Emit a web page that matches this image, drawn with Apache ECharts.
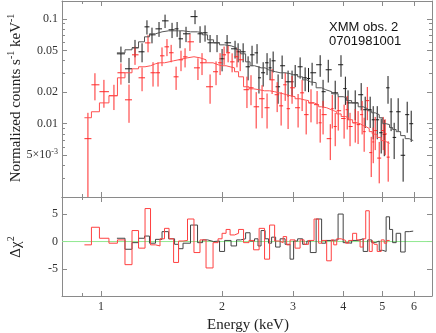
<!DOCTYPE html>
<html><head><meta charset="utf-8">
<script src="https://cdn.jsdelivr.net/npm/echarts@6/dist/echarts.min.js"></script>
<style>html,body{margin:0;padding:0;background:#fff}#c{width:436px;height:333px}</style>
</head><body><div id="c"></div><script>
// ---- data ----
const blackEnergy = [1.121,1.174,1.215,1.265,1.301,1.339,1.394,1.443,1.502,1.546,1.572,1.627,1.713,1.763,1.814,1.867,1.943,2.000,2.058,2.154,2.192,2.256,2.321,2.374,2.443,2.47,2.53,2.587,2.632,2.679,2.756,2.820,2.918,2.985,3.039,3.126,3.217,3.280,3.348,3.506,3.565,3.672,3.821,3.95,4.05,4.113,4.285,4.434,4.537,4.668,4.750,4.861,4.972,5.06,5.17,5.262,5.355,5.479,5.637,5.770,5.904];
const blackRate = [0.0464,0.0334,0.0530,0.0485,0.0839,0.0704,0.0803,0.0957,0.0786,0.0803,0.0645,0.0720,0.105,0.0720,0.0736,0.0591,0.0591,0.0416,0.0591,0.0518,0.0485,0.0485,0.0349,0.0454,0.0474,0.0274,0.0306,0.0381,0.0341,0.0398,0.0225,0.0357,0.0251,0.0251,0.0293,0.0349,0.0274,0.0270,0.0306,0.0365,0.0202,0.0327,0.0197,0.0365,0.0216,0.0158,0.0158,0.0189,0.0136,0.0136,0.0109,0.0109,0.0082,0.0079,0.0220,0.0130,0.0074,0.0130,0.0050,0.0122,0.0100];
const blackErr = [0.008,0.009,0.010,0.010,0.013,0.012,0.013,0.014,0.013,0.013,0.012,0.012,0.016,0.013,0.013,0.011,0.011,0.010,0.011,0.010,0.010,0.010,0.009,0.010,0.010,0.008,0.008,0.009,0.008,0.009,0.007,0.009,0.007,0.007,0.007,0.008,0.007,0.007,0.0075,0.0085,0.006,0.008,0.006,0.0085,0.0065,0.005,0.005,0.0055,0.0045,0.0045,0.0038,0.0038,0.003,0.003,0.0065,0.0045,0.0028,0.0045,0.0022,0.004,0.0033];
const blackModel = [0.0474,0.0507,0.0530,0.0604,0.0674,0.0720,0.0752,0.0769,0.0769,0.0769,0.0769,0.0752,0.0752,0.0736,0.0704,0.0631,0.0591,0.0565,0.0553,0.0530,0.0507,0.0464,0.0389,0.0357,0.0349,0.0341,0.0341,0.0327,0.0320,0.0313,0.0306,0.0306,0.0300,0.0293,0.0293,0.0280,0.0262,0.0251,0.0246,0.0220,0.0211,0.0202,0.0193,0.0181,0.0177,0.0166,0.0158,0.0145,0.0139,0.0133,0.0127,0.0122,0.0114,0.0100,0.0098,0.0092,0.0088,0.0084,0.0077,0.0072,0.0069];
const blackResid = [0.6,-1.4,-0.2,0.6,1.0,-0.3,0.4,1.8,0.5,-0.5,-1.3,-0.3,3.0,-0.2,0.3,0,0.1,-1.8,0.2,-0.8,0.3,0.5,1.6,0.1,0.5,-0.8,2.0,0.5,-0.3,0.8,-1.0,0.5,-0.5,-3.2,0.1,0.5,-0.5,0.1,-2.0,4.1,-0.3,0.2,0.3,5.0,-0.2,-0.3,0.2,0.5,-1.8,0.3,-0.2,0.1,-1.6,-1.8,4.5,2.2,-0.2,1.5,-1.9,1.8,1.9];

const redEnergy = [0.928,0.966,1.017,1.077,1.121,1.174,1.215,1.265,1.309,1.347,1.386,1.418,1.459,1.494,1.537,1.581,1.618,1.664,1.742,1.783,1.867,1.932,1.977,2.023,2.070,2.118,2.178,2.218,2.306,2.360,2.431,2.514,2.587,2.663,2.741,2.804,2.870,2.918,2.985,3.090,3.162,3.236,3.327,3.445,3.506,3.565,3.715,3.757,3.821,3.888,4.021,4.093,4.160,4.285,4.356,4.458,4.510,4.592,4.696,4.750,4.804,4.916,5.030,5.087,5.175];
const redRate = [0.0072,0.0235,0.0202,0.0185,0.0306,0.0169,0.0454,0.0274,0.059,0.0306,0.0306,0.0444,0.0541,0.0475,0.0280,0.0407,0.0434,0.0604,0.0341,0.0381,0.0225,0.0313,0.0381,0.0454,0.0475,0.0389,0.0435,0.0407,0.0211,0.0220,0.0145,0.0173,0.0142,0.0262,0.0189,0.0148,0.0235,0.0139,0.0220,0.0142,0.0197,0.0122,0.0158,0.0152,0.0102,0.0122,0.0072,0.0139,0.0094,0.0133,0.0112,0.0136,0.0094,0.0102,0.0098,0.0122,0.0084,0.0166,0.0053,0.0067,0.0086,0.0047,0.0086,0.0080,0.0048];
const redErr = [0.0055,0.0068,0.006,0.005,0.007,0.0067,0.009,0.007,0.011,0.008,0.008,0.009,0.010,0.009,0.007,0.009,0.009,0.011,0.008,0.009,0.007,0.008,0.009,0.009,0.009,0.008,0.009,0.009,0.007,0.007,0.0055,0.006,0.0052,0.007,0.006,0.0052,0.007,0.005,0.0065,0.005,0.0065,0.0043,0.0055,0.0053,0.0036,0.0043,0.0027,0.0049,0.0033,0.0047,0.004,0.0048,0.0033,0.0036,0.0034,0.0043,0.003,0.0058,0.0022,0.0025,0.003,0.002,0.003,0.003,0.002];
const redModel = [0.0114,0.0130,0.0158,0.0185,0.0274,0.0306,0.0334,0.0349,0.0357,0.0373,0.0381,0.0381,0.0389,0.0398,0.0407,0.0416,0.0425,0.0435,0.0425,0.0407,0.0381,0.0365,0.0357,0.0357,0.0349,0.0341,0.0313,0.0280,0.0225,0.0215,0.0211,0.0206,0.0206,0.0202,0.0197,0.0193,0.0189,0.0185,0.0181,0.0173,0.0169,0.0166,0.0158,0.0152,0.0145,0.0142,0.0136,0.0133,0.0130,0.0124,0.0117,0.0114,0.0109,0.0102,0.0100,0.0096,0.0094,0.0090,0.0084,0.0080,0.0079,0.0074,0.0069,0.0067,0.0065];
const redResid = [-0.6,2.6,0.6,-0.3,0.3,-4.2,2.0,-1.2,6.0,-0.6,-0.8,0.5,2.4,0.5,-3.8,0.1,0.2,4.1,-2.0,0.3,-4.8,-0.2,0.5,1.5,2.2,1.2,1.5,2.2,-0.2,0.2,-1.5,2.4,-3.2,3.0,0.1,-0.2,0.9,-0.6,0.3,-1.2,0.3,-0.5,0.2,4.1,-0.3,0.2,-3.5,0.3,-0.6,0.5,0.2,-0.3,0.2,1.5,0.3,-1.0,0.5,5.6,-1.8,0.2,-0.5,-1.8,0.3,-0.3,0.2];

const xTicks = [1,2,3,4,5,6];
const xMinorTicks = [0.9];
const yTicks = [0.1,0.05,0.02,0.01,0.005];
const yMinorTicks = [0.09,0.08,0.07,0.06,0.04,0.03,0.009,0.008,0.007,0.006,0.004,0.003];
const residTicks = [5,0,-5];

// ---- build ----
const L = Math.log10;
const XMIN = 0.8, XMAX = 6.65, YMIN = 0.002, YMAX = 0.148, RMIN = -9.9, RMAX = 8.1;
const AX = '#8a8a8a';
const SERIF = 'Liberation Serif';

function edges(E){
  const l = E.map(L), n = l.length, lo = [], hi = [];
  for (let i = 0; i < n; i++) {
    lo.push(i > 0 ? (l[i-1] + l[i]) / 2 : l[0] - (l[1] - l[0]) / 2);
    hi.push(i < n - 1 ? (l[i] + l[i+1]) / 2 : l[n-1] + (l[n-1] - l[n-2]) / 2);
  }
  return {l, lo, hi};
}
function errData(E, R, S){
  const b = edges(E);
  return E.map((e, i) => [b.l[i], L(R[i]), b.lo[i], b.hi[i], L(R[i] + S[i]), L(Math.max(R[i] - S[i], YMIN))]);
}
function stepData(E, M, logY){
  const b = edges(E), out = [];
  E.forEach((e, i) => { const y = logY ? L(M[i]) : M[i]; out.push([b.lo[i], y], [b.hi[i], y]); });
  return out;
}
function errSeries(data, color){
  return {type:'custom', xAxisIndex:0, yAxisIndex:0, clip:true, data, silent:true,
    encode:{x:[0,2,3], y:[1,4,5]},
    renderItem(params, api){
      const c = api.coord([api.value(0), api.value(1)]);
      const l = api.coord([api.value(2), api.value(1)]);
      const h = api.coord([api.value(3), api.value(1)]);
      const t = api.coord([api.value(0), api.value(4)]);
      const b = api.coord([api.value(0), api.value(5)]);
      return {type:'group', children:[
        {type:'line', shape:{x1:l[0], y1:c[1], x2:h[0], y2:c[1]}, style:{stroke:color, lineWidth:1}},
        {type:'line', shape:{x1:c[0], y1:t[1], x2:c[0], y2:b[1]}, style:{stroke:color, lineWidth:1}}
      ]};
    }};
}
function stepSeries(data, color, xi, yi){
  return {type:'line', xAxisIndex:xi, yAxisIndex:yi, data, symbol:'none', showSymbol:false, clip:true, silent:true,
    lineStyle:{color, width:1}};
}
function axis(o){
  const base = {
    type:'value', gridIndex:o.grid, position:o.pos, min:o.min, max:o.max,
    axisLine:{show:!!o.line, onZero:false, lineStyle:{color:AX, width:1}},
    axisTick:{show:true, inside:true, length:o.len, customValues:o.ticks, lineStyle:{color:AX, width:1}},
    axisLabel:{show:!!o.fmt},
    splitLine:{show:false}
  };
  if (o.fmt) base.axisLabel = {show:true, customValues:o.ticks, formatter:o.fmt, margin:o.margin,
    fontFamily:SERIF, fontSize:12, color:'#333',
    rich:{n:{fontFamily:SERIF, fontSize:12, color:'#333'}, s:{fontFamily:SERIF, fontSize:8, color:'#333', padding:[0,0,7,0]}}};
  return base;
}
const xr = [L(XMIN), L(XMAX)], yr = [L(YMIN), L(YMAX)];
const xfmt = v => String(Math.round(Math.pow(10, v)));
const yfmt = v => { const r = +Math.pow(10, v).toPrecision(2); return Math.abs(r - 0.005) < 1e-9 ? '{n|5×10}{s|-3}' : String(r); };

const xAxes = [
  axis({grid:0, pos:'bottom', min:xr[0], max:xr[1], line:true, len:5, ticks:xTicks.map(L)}),
  axis({grid:0, pos:'bottom', min:xr[0], max:xr[1], len:3, ticks:xMinorTicks.map(L)}),
  axis({grid:0, pos:'top', min:xr[0], max:xr[1], line:true, len:5, ticks:xTicks.map(L)}),
  axis({grid:0, pos:'top', min:xr[0], max:xr[1], len:3, ticks:xMinorTicks.map(L)}),
  axis({grid:1, pos:'bottom', min:xr[0], max:xr[1], line:true, len:5, ticks:xTicks.map(L), fmt:xfmt, margin:5}),
  axis({grid:1, pos:'bottom', min:xr[0], max:xr[1], len:3, ticks:xMinorTicks.map(L)}),
  axis({grid:1, pos:'top', min:xr[0], max:xr[1], line:true, len:5, ticks:xTicks.map(L)}),
  axis({grid:1, pos:'top', min:xr[0], max:xr[1], len:3, ticks:xMinorTicks.map(L)})
];
const yAxes = [
  axis({grid:0, pos:'left', min:yr[0], max:yr[1], line:true, len:5, ticks:yTicks.map(L), fmt:yfmt, margin:4}),
  axis({grid:0, pos:'left', min:yr[0], max:yr[1], len:3, ticks:yMinorTicks.map(L)}),
  axis({grid:0, pos:'right', min:yr[0], max:yr[1], line:true, len:5, ticks:yTicks.map(L)}),
  axis({grid:0, pos:'right', min:yr[0], max:yr[1], len:3, ticks:yMinorTicks.map(L)}),
  axis({grid:1, pos:'left', min:RMIN, max:RMAX, line:true, len:5, ticks:residTicks, fmt:v => String(Math.round(v)), margin:4}),
  axis({grid:1, pos:'right', min:RMIN, max:RMAX, line:true, len:5, ticks:residTicks})
];

const chart = echarts.init(document.getElementById('c'), null, {renderer:'canvas'});
chart.setOption({
  animation:false,
  backgroundColor:'#fff',
  grid:[
    {left:62, top:1, width:370, height:196, outerBoundsMode:'none', containLabel:false},
    {left:62, top:197, width:370, height:99, outerBoundsMode:'none', containLabel:false}
  ],
  xAxis:xAxes,
  yAxis:yAxes,
  series:[
    {type:'line', xAxisIndex:4, yAxisIndex:4, data:[[xr[0],0],[xr[1],0]], symbol:'none', silent:true, lineStyle:{color:'#90e890', width:1}},
    errSeries(errData(blackEnergy, blackRate, blackErr), '#1a1a1a'),
    errSeries(errData(redEnergy, redRate, redErr), '#ff2a2a'),
    stepSeries(stepData(blackEnergy, blackModel, true), '#555', 0, 0),
    stepSeries(stepData(redEnergy, redModel, true), '#ff5050', 0, 0),
    stepSeries(stepData(blackEnergy, blackResid, false), '#444', 4, 4),
    stepSeries(stepData(redEnergy, redResid, false), '#ff4040', 4, 4)
  ],
  graphic:[
    {type:'text', x:16, y:98, rotation:Math.PI/2, silent:true, style:{
      text:'{t|Normalized counts s}{u|-1}{t| keV}{u|-1}', align:'center', verticalAlign:'middle',
      rich:{t:{fontFamily:SERIF, fontSize:15, fill:'#222'}, u:{fontFamily:SERIF, fontSize:10, fill:'#222', padding:[0,0,9,0]}}}},
    {type:'text', x:16, y:247, rotation:Math.PI/2, silent:true, style:{
      text:'{t|Δχ}{u|2}', align:'center', verticalAlign:'middle',
      rich:{t:{fontFamily:SERIF, fontSize:15, fill:'#222'}, u:{fontFamily:SERIF, fontSize:10, fill:'#222', padding:[0,0,9,0]}}}},
    {type:'text', x:248, y:325, silent:true, style:{text:'Energy (keV)', fontFamily:SERIF, fontSize:15, fill:'#222', align:'center', verticalAlign:'middle'}},
    {type:'text', x:329, y:20, silent:true, style:{text:'XMM obs. 2\n0701981001', fontFamily:'Liberation Sans', fontSize:13, lineHeight:14, fill:'#111', align:'left', verticalAlign:'top'}}
  ]
});
</script></body></html>
